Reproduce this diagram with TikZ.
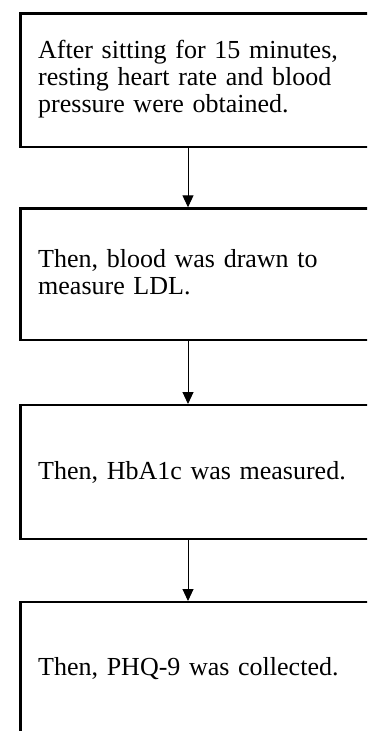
\documentclass[tikz,border=0pt]{standalone}
\usepackage{fontspec}
\setmainfont{Liberation Serif}
\usetikzlibrary{arrows.meta}

\begin{document}
\begin{tikzpicture}[x=1pt, y=-1pt,
        stepbox/.style={draw, line width=2.4pt, anchor=north west, inner sep=0pt, minimum width=370pt},
        steptext/.style={anchor=base west, inner sep=0pt, text width=325pt, align=left, font=\fontsize{26pt}{27pt}\selectfont},
        flow/.style={-{Triangle[length=12pt, width=11pt]}, line width=1pt}]
        \useasboundingbox (0,0) rectangle (367,731);
        \clip (0,0) rectangle (367,731);

        \coordinate (ax) at (188,0);

        \node (b1) at (19.3,12.3)  [stepbox, minimum height=133.4pt] {};
        \node (b2) at (19.3,207.3) [stepbox, minimum height=131.2pt] {};
        \node (b3) at (19.3,404)   [stepbox, minimum height=134pt]   {};
        \node (b4) at (19.3,601)   [stepbox, minimum height=160pt]   {};

        \node (t1) at (38,58)  [steptext] {After sitting for 15 minutes,\\resting heart rate and blood\\pressure were obtained.};
        \node (t2) at (38,267) [steptext] {Then, blood was drawn to\\measure LDL.};
        \node (t3) at (38,479) [steptext] {Then, HbA1c was measured.};
        \node (t4) at (38,675) [steptext] {Then, PHQ-9 was collected.};

        \draw[flow] (b1.south -| ax) -- (b2.north -| ax);
        \draw[flow] (b2.south -| ax) -- (b3.north -| ax);
        \draw[flow] (b3.south -| ax) -- (b4.north -| ax);
    \end{tikzpicture}
\end{document}
